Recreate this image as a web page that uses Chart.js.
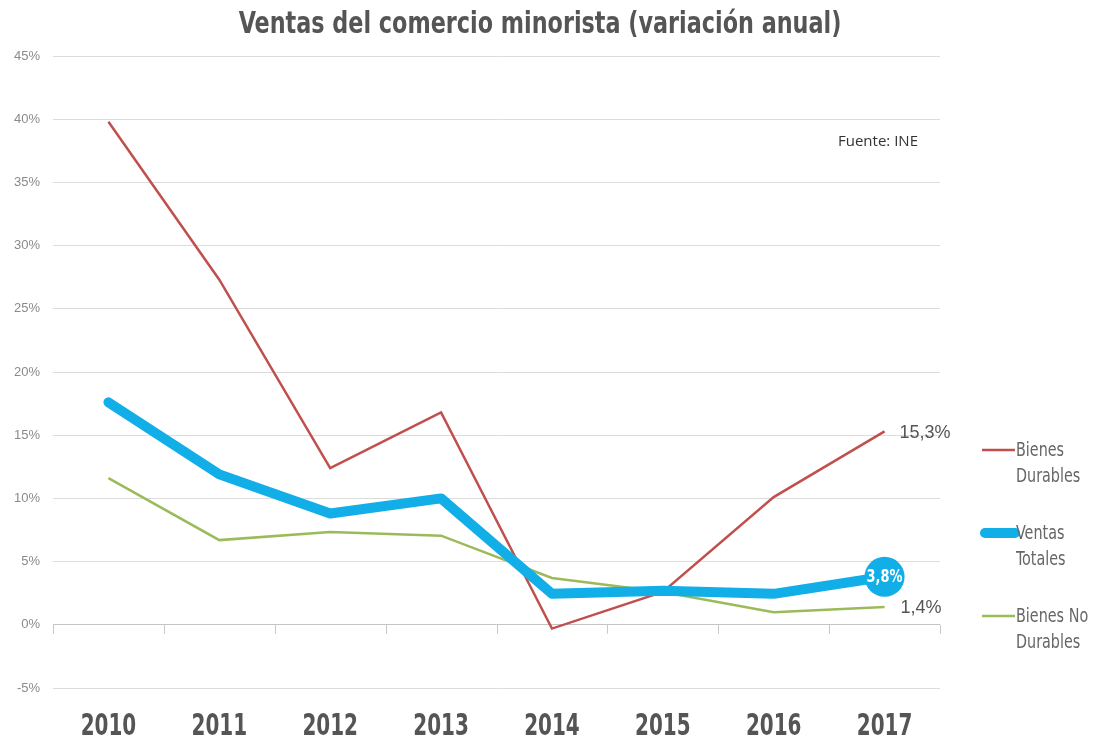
<!DOCTYPE html>
<html><head><meta charset="utf-8">
<script src="https://cdn.jsdelivr.net/npm/chart.js@4"></script>
<style>html,body{margin:0;padding:0;background:#fff}#wrap{width:1100px;height:740px}</style>
</head><body><div id="wrap"><canvas id="c" width="1100" height="740"></canvas></div>
<script>
const years = ['2010','2011','2012','2013','2014','2015','2016','2017'];
const bienesDurables = [39.8, 27.3, 12.4, 16.8, -0.3, 2.6, 10.1, 15.3];
const ventasTotales = [17.6, 11.9, 8.8, 10.0, 2.45, 2.7, 2.45, 3.8];
const bienesNoDurables = [11.6, 6.7, 7.35, 7.05, 3.7, 2.6, 1.0, 1.4];
const yTicks = [-5, 0, 5, 10, 15, 20, 25, 30, 35, 40, 45];
const title = 'Ventas del comercio minorista (variación anual)';
const source = 'Fuente: INE';
const legendNames = [['Bienes','Durables'],['Ventas','Totales'],['Bienes No','Durables']];
const fmt = v => String(v).replace('.', ',') + '%';

const NARROW = '"DejaVu Sans Condensed", "Liberation Sans Narrow", sans-serif';
const SANS = '"Liberation Sans", Arial, sans-serif';

function narrowText(ctx, text, x, y, sx, align) {
  ctx.save();
  ctx.translate(x, y);
  ctx.scale(sx, 1);
  ctx.textAlign = align;
  ctx.fillText(text, 0, 0);
  ctx.restore();
}

const decor = {
  id: 'decor',
  afterDraw(chart) {
    const ctx = chart.ctx, x = chart.scales.x, y = chart.scales.y, ca = chart.chartArea;
    ctx.save();
    ctx.textBaseline = 'middle';
    // title
    ctx.fillStyle = '#555';
    ctx.font = 'bold 31px ' + NARROW;
    narrowText(ctx, title, 540, 25, 0.8, 'center');
    // source
    ctx.fillStyle = '#333';
    ctx.font = '15px "Open Sans", sans-serif';
    ctx.textAlign = 'left';
    ctx.fillText(source, 838, 142);
    // zero-line tick marks
    const y0 = y.getPixelForValue(0);
    ctx.strokeStyle = '#c8c8c8'; ctx.lineWidth = 1;
    const n = years.length, step = (ca.right - ca.left) / n;
    for (let i = 0; i <= n; i++) {
      const px = Math.round(ca.left + i * step) + 0.5;
      ctx.beginPath(); ctx.moveTo(px, y0); ctx.lineTo(px, y0 + 9); ctx.stroke();
    }
    // x labels
    ctx.fillStyle = '#555';
    ctx.font = 'bold 30px ' + NARROW;
    years.forEach((t, i) => narrowText(ctx, t, x.getPixelForValue(i), 727, 0.74, 'center'));
    // end labels
    const last = n - 1;
    ctx.fillStyle = '#555'; ctx.font = '18px ' + SANS; ctx.textAlign = 'left';
    ctx.fillText(fmt(bienesDurables[last]), x.getPixelForValue(last) + 15, y.getPixelForValue(bienesDurables[last]) + 2);
    ctx.fillText(fmt(bienesNoDurables[last]), x.getPixelForValue(last) + 16, y.getPixelForValue(bienesNoDurables[last]) + 1);
    // bubble label
    ctx.fillStyle = '#fff'; ctx.font = 'bold 18px ' + NARROW;
    narrowText(ctx, fmt(ventasTotales[last]), x.getPixelForValue(last), y.getPixelForValue(ventasTotales[last]) + 1, 0.8, 'center');
    // legend
    const ly = [450, 533, 616];
    chart.data.datasets.forEach((ds, i) => {
      ctx.strokeStyle = ds.borderColor;
      ctx.lineWidth = i === 1 ? 10 : 2.5;
      ctx.lineCap = i === 1 ? 'round' : 'butt';
      ctx.beginPath(); ctx.moveTo(i === 1 ? 985 : 982, ly[i]); ctx.lineTo(1015, ly[i]); ctx.stroke();
      ctx.fillStyle = '#666'; ctx.font = '19px ' + NARROW;
      narrowText(ctx, legendNames[i][0], 1016, ly[i] + 1, 0.84, 'left');
      narrowText(ctx, legendNames[i][1], 1016, ly[i] + 27, 0.84, 'left');
    });
    ctx.restore();
  }
};

new Chart(document.getElementById('c'), {
  type: 'line',
  data: {
    labels: years,
    datasets: [
      { label: 'Bienes Durables', data: bienesDurables, borderColor: '#c0504d', borderWidth: 2.5, pointRadius: 0, tension: 0, order: 2 },
      { label: 'Ventas Totales', data: ventasTotales, borderColor: '#12aee8', backgroundColor: '#12aee8', borderWidth: 10, borderJoinStyle: 'round', borderCapStyle: 'round',
        pointRadius: ctx => ctx.dataIndex === years.length - 1 ? 20 : 0, pointBorderWidth: 0, pointHoverRadius: 0, tension: 0, order: 1 },
      { label: 'Bienes No Durables', data: bienesNoDurables, borderColor: '#9bbb59', borderWidth: 2.5, pointRadius: 0, tension: 0, order: 3 }
    ]
  },
  options: {
    responsive: false, animation: false, devicePixelRatio: 1,
    layout: { padding: { top: 56, right: 160, left: 0, bottom: 0 } },
    plugins: { legend: { display: false }, title: { display: false }, tooltip: { enabled: false } },
    scales: {
      x: {
        offset: true,
        grid: { display: false, drawTicks: false },
        border: { display: false },
        ticks: { display: false },
        afterFit: s => { s.height = 52; }
      },
      y: {
        min: -5, max: 45,
        afterBuildTicks: s => { s.ticks = yTicks.map(v => ({ value: v })); },
        grid: { color: c => c.tick && c.tick.value === 0 ? '#c4c4c4' : '#dcdcdc', lineWidth: 1, drawTicks: false },
        border: { display: false },
        ticks: { color: '#8a8a8a', font: { family: SANS, size: 13 }, padding: 13, callback: v => v + '%' },
        afterFit: s => { s.width = 53; }
      }
    }
  },
  plugins: [decor]
});
</script></body></html>
